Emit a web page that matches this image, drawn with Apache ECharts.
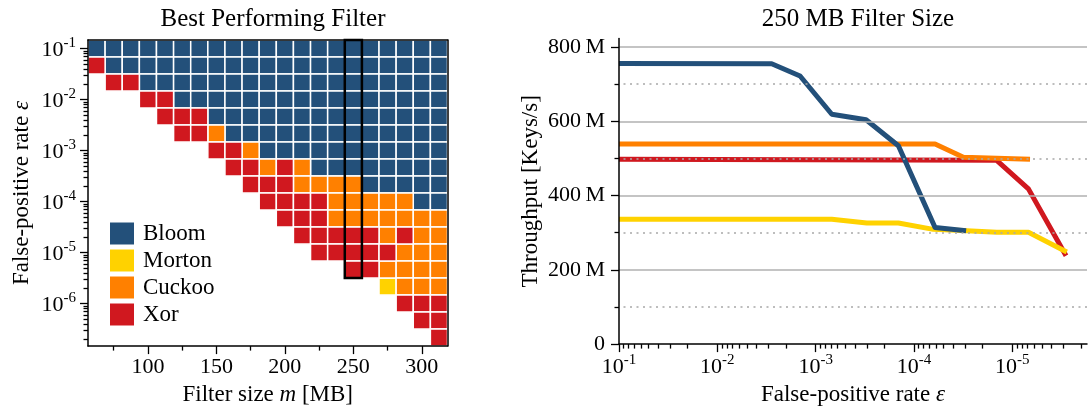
<!DOCTYPE html>
<html><head><meta charset="utf-8">
<script src="https://cdn.jsdelivr.net/npm/echarts@6/dist/echarts.min.js"></script>
<style>html,body{margin:0;padding:0;background:#fff}#c{width:1090px;height:411px}</style>
</head><body><div id="c"></div>
<script>
// ---------- data: left panel (best performing filter) ----------
const filterSizes = [62.5, 75, 87.5, 100, 112.5, 125, 137.5, 150, 162.5, 175, 187.5, 200, 212.5, 225, 237.5, 250, 262.5, 275, 287.5, 300, 312.5];
const fprLevels = [1e-1, 4.64e-2, 2.15e-2, 1e-2, 4.64e-3, 2.15e-3, 1e-3, 4.64e-4, 2.15e-4, 1e-4, 4.64e-5, 2.15e-5, 1e-5, 4.64e-6, 2.15e-6, 1e-6, 4.64e-7, 2.15e-7];
// B = Bloom, M = Morton, C = Cuckoo, X = Xor, . = none
const winnerRows = [
  'BBBBBBBBBBBBBBBBBBBBB',
  'XBBBBBBBBBBBBBBBBBBBB',
  '.XXBBBBBBBBBBBBBBBBBB',
  '...XXBBBBBBBBBBBBBBBB',
  '....XXXBBBBBBBBBBBBBB',
  '.....XXCBBBBBBBBBBBBB',
  '.......XXCBBBBBBBBBBB',
  '........XXCXCBBBBBBBB',
  '.........XXXCCCCBBBBB',
  '..........XXXXCCCCCBB',
  '...........XXXCCCCCCC',
  '............XXXXXCXCC',
  '.............XXXXXCCC',
  '...............XXCCCC',
  '.................MCCC',
  '..................XXX',
  '...................XX',
  '....................X'
];
const filterNames = ['Bloom', 'Morton', 'Cuckoo', 'Xor'];
const filterCodes = ['B', 'M', 'C', 'X'];
const highlightSize = 250;
const highlightLowestFpr = 4.64e-6;
const sizeTicks = [100, 150, 200, 250, 300];
const sizeMinorTicks = [75, 125, 175, 225, 275];
const fprDecadesLeft = [1e-1, 1e-2, 1e-3, 1e-4, 1e-5, 1e-6];

// ---------- data: right panel (250 MB filter size) ----------
const bloomFpr = [1e-1, 2.8e-3, 1.44e-3, 6.85e-4, 3.07e-4, 1.44e-4, 6.1e-5, 2.95e-5];
const bloomThroughput = [756, 755, 722, 619, 604, 534, 314, 305];
const mortonFpr = [1e-1, 6.85e-4, 3.02e-4, 1.44e-4, 6.35e-5, 2.9e-5, 1.44e-5, 6.85e-6, 2.79e-6];
const mortonThroughput = [336, 336, 326, 326, 309, 305, 301, 301, 248];
const cuckooFpr = [1e-1, 6.1e-5, 3.14e-5, 6.6e-6];
const cuckooThroughput = [539, 539, 503, 498];
const xorFpr = [1e-1, 1.44e-5, 6.85e-6, 2.84e-6];
const xorThroughput = [498, 495, 418, 238];
const throughputTicks = [0, 200, 400, 600, 800];
const throughputMinorTicks = [100, 300, 500, 700];
const fprDecadesRight = [1e-1, 1e-2, 1e-3, 1e-4, 1e-5];

// ---------- styling ----------
const FONT = 'Liberation Serif';
const COLORS = { Bloom: '#23507a', Morton: '#ffd200', Cuckoo: '#ff8000', Xor: '#d0181f' };
const L = v => Math.log10(v);

const halfW = (filterSizes[1] - filterSizes[0]) / 2;
const halfH = (L(fprLevels[0]) - L(fprLevels[1])) / 2;
const xMinL = filterSizes[0] - halfW, xMaxL = filterSizes[filterSizes.length - 1] + halfW;
const yMaxL = L(fprLevels[0]) + halfH, yMinL = L(fprLevels[fprLevels.length - 1]) - halfH;
const xMinR = -5.76, xMaxR = -1;
const yMaxR = 823;

function minorLog(lo, hi) {
  const out = [];
  for (let n = 0; n <= 8; n++) for (let k = 2; k <= 9; k++) {
    const v = L(k) - n; if (v >= lo && v <= hi) out.push(v);
  }
  return out;
}

const richSup = {
  b: { fontFamily: FONT, fontSize: 22, color: '#000', lineHeight: 26, verticalAlign: 'bottom' },
  s: { fontFamily: FONT, fontSize: 15, color: '#000', lineHeight: 14, verticalAlign: 'top' }
};
const supFmt = v => '{b|10}{s|' + Math.round(v) + '}';
const nameStyle = { fontFamily: FONT, fontSize: 23, color: '#000',
  rich: { i: { fontFamily: FONT, fontSize: 23, color: '#000', fontStyle: 'italic' } } };
const lineAx = { onZero: false, lineStyle: { color: '#000', width: 1.5 } };
const tickStyle = { color: '#000', width: 1.3 };
const labelBase = { fontFamily: FONT, fontSize: 22, color: '#000' };

// cells per filter type
const cellSeries = filterNames.map((name, fi) => {
  const data = [];
  winnerRows.forEach((row, r) => {
    for (let c = 0; c < row.length; c++) {
      if (row[c] === filterCodes[fi]) data.push([filterSizes[c], L(fprLevels[r])]);
    }
  });
  return {
    type: 'custom', name, xAxisIndex: 0, yAxisIndex: 0, z: 1, silent: true,
    itemStyle: { color: COLORS[name] },
    data,
    renderItem: (params, api) => {
      const x = api.value(0), y = api.value(1);
      const p0 = api.coord([x - halfW, y + halfH]);
      const p1 = api.coord([x + halfW, y - halfH]);
      return { type: 'rect', shape: { x: p0[0], y: p0[1], width: p1[0] - p0[0], height: p1[1] - p0[1] },
        style: { fill: COLORS[name], stroke: '#fff', lineWidth: 1.5 } };
    }
  };
});

const highlightSeries = {
  type: 'custom', xAxisIndex: 0, yAxisIndex: 0, z: 4, silent: true,
  data: [[highlightSize, L(highlightLowestFpr)]],
  renderItem: (params, api) => {
    const x = api.value(0), y = api.value(1);
    const p0 = api.coord([x - halfW, yMaxL]);
    const p1 = api.coord([x + halfW, y - halfH]);
    return { type: 'rect', shape: { x: p0[0], y: p0[1], width: p1[0] - p0[0], height: p1[1] - p0[1] },
      style: { fill: 'none', stroke: '#000', lineWidth: 2.5 } };
  }
};

const gridSeries = {
  type: 'line', xAxisIndex: 3, yAxisIndex: 3, data: [], z: 1, silent: true,
  markLine: {
    silent: true, symbol: ['none', 'none'], label: { show: false }, animation: false,
    data: throughputTicks.filter(v => v > 0).map(v => ({ yAxis: v, lineStyle: { type: 'solid', color: '#b0b0b0', width: 1.5 } }))
      .concat(throughputMinorTicks.map(v => ({ yAxis: v, lineStyle: { type: [2, 4.5], color: '#a8a8a8', width: 1.6 } })))
  }
};

function lineSeries(name, fpr, tp) {
  return { type: 'line', name, xAxisIndex: 3, yAxisIndex: 3, z: 2, silent: true,
    symbol: 'none', data: fpr.map((f, i) => [L(f), tp[i]]),
    lineStyle: { color: COLORS[name], width: 5, cap: 'butt', join: 'round' },
    itemStyle: { color: COLORS[name] } };
}

const option = {
  animation: false,
  backgroundColor: '#fff',
  title: [
    { text: 'Best Performing Filter', left: 268, top: 2, textAlign: 'center',
      textStyle: { fontFamily: FONT, fontSize: 25, fontWeight: 'normal', color: '#000' } },
    { text: '250 MB Filter Size', left: 853, top: 2, textAlign: 'center',
      textStyle: { fontFamily: FONT, fontSize: 25, fontWeight: 'normal', color: '#000' } }
  ],
  legend: {
    data: filterNames, orient: 'vertical', left: 110, top: 222, padding: 0,
    itemWidth: 24, itemHeight: 22, itemGap: 4, icon: 'rect', selectedMode: false,
    textStyle: { fontFamily: FONT, fontSize: 23, lineHeight: 22, color: '#000', padding: [0, 0, 0, 4] }
  },
  grid: [
    { left: 88, top: 40, width: 359.5, height: 310 },
    { left: 619, top: 38.5, width: 468, height: 311.5 }
  ],
  xAxis: [
    { gridIndex: 0, type: 'value', min: xMinL, max: xMaxL, position: 'bottom', z: 5,
      axisLine: lineAx, splitLine: { show: false },
      axisTick: { length: 8, customValues: sizeTicks, lineStyle: tickStyle },
      axisLabel: Object.assign({ customValues: sizeTicks, margin: 10 }, labelBase),
      name: 'Filter size {i|m} [MB]', nameLocation: 'middle', nameGap: 32, nameTextStyle: nameStyle },
    { gridIndex: 0, type: 'value', min: xMinL, max: xMaxL, position: 'bottom', z: 5,
      axisLine: { show: false, onZero: false }, splitLine: { show: false },
      axisTick: { length: 4.5, customValues: sizeMinorTicks, lineStyle: tickStyle },
      axisLabel: { show: false } },
    { gridIndex: 0, type: 'value', min: xMinL, max: xMaxL, position: 'top', z: 5,
      axisLine: lineAx, splitLine: { show: false }, axisTick: { show: false }, axisLabel: { show: false } },
    { gridIndex: 1, type: 'value', min: xMinR, max: xMaxR, inverse: true, position: 'bottom', z: 5,
      axisLine: lineAx, splitLine: { show: false },
      axisTick: { length: 8, customValues: fprDecadesRight.map(L), lineStyle: tickStyle },
      axisLabel: { customValues: fprDecadesRight.map(L), formatter: supFmt, rich: richSup, margin: 8 },
      name: 'False-positive rate {i|ε}', nameLocation: 'middle', nameGap: 32, nameTextStyle: nameStyle },
    { gridIndex: 1, type: 'value', min: xMinR, max: xMaxR, inverse: true, position: 'bottom', z: 5,
      axisLine: { show: false, onZero: false }, splitLine: { show: false },
      axisTick: { length: 4.5, customValues: minorLog(xMinR, xMaxR), lineStyle: tickStyle },
      axisLabel: { show: false } }
  ],
  yAxis: [
    { gridIndex: 0, type: 'value', min: yMinL, max: yMaxL, position: 'left', z: 5,
      axisLine: lineAx, splitLine: { show: false },
      axisTick: { length: 8, customValues: fprDecadesLeft.map(L), lineStyle: tickStyle },
      axisLabel: { customValues: fprDecadesLeft.map(L), formatter: supFmt, rich: richSup, margin: 12 },
      name: 'False-positive rate {i|ε}', nameLocation: 'middle', nameGap: 55, nameTextStyle: nameStyle },
    { gridIndex: 0, type: 'value', min: yMinL, max: yMaxL, position: 'left', z: 5,
      axisLine: { show: false, onZero: false }, splitLine: { show: false },
      axisTick: { length: 4.5, customValues: minorLog(yMinL, yMaxL), lineStyle: tickStyle },
      axisLabel: { show: false } },
    { gridIndex: 0, type: 'value', min: yMinL, max: yMaxL, position: 'right', z: 5,
      axisLine: lineAx, splitLine: { show: false }, axisTick: { show: false }, axisLabel: { show: false } },
    { gridIndex: 1, type: 'value', min: 0, max: yMaxR, position: 'left', z: 5,
      axisLine: lineAx, splitLine: { show: false },
      axisTick: { length: 8, customValues: throughputTicks, lineStyle: tickStyle },
      axisLabel: Object.assign({ customValues: throughputTicks, margin: 14,
        formatter: v => v === 0 ? '0' : v + '\u2009M' }, labelBase),
      name: 'Throughput [Keys/s]', nameLocation: 'middle', nameGap: 77, nameTextStyle: nameStyle },
    { gridIndex: 1, type: 'value', min: 0, max: yMaxR, position: 'left', z: 5,
      axisLine: { show: false, onZero: false }, splitLine: { show: false },
      axisTick: { length: 4.5, customValues: throughputMinorTicks, lineStyle: tickStyle },
      axisLabel: { show: false } }
  ],
  series: cellSeries.concat([
    highlightSeries,
    gridSeries,
    lineSeries('Xor', xorFpr, xorThroughput),
    lineSeries('Morton', mortonFpr, mortonThroughput),
    lineSeries('Cuckoo', cuckooFpr, cuckooThroughput),
    lineSeries('Bloom', bloomFpr, bloomThroughput)
  ])
};

const chart = echarts.init(document.getElementById('c'), null, { renderer: 'canvas' });
chart.setOption(option);
</script>
</body></html>
